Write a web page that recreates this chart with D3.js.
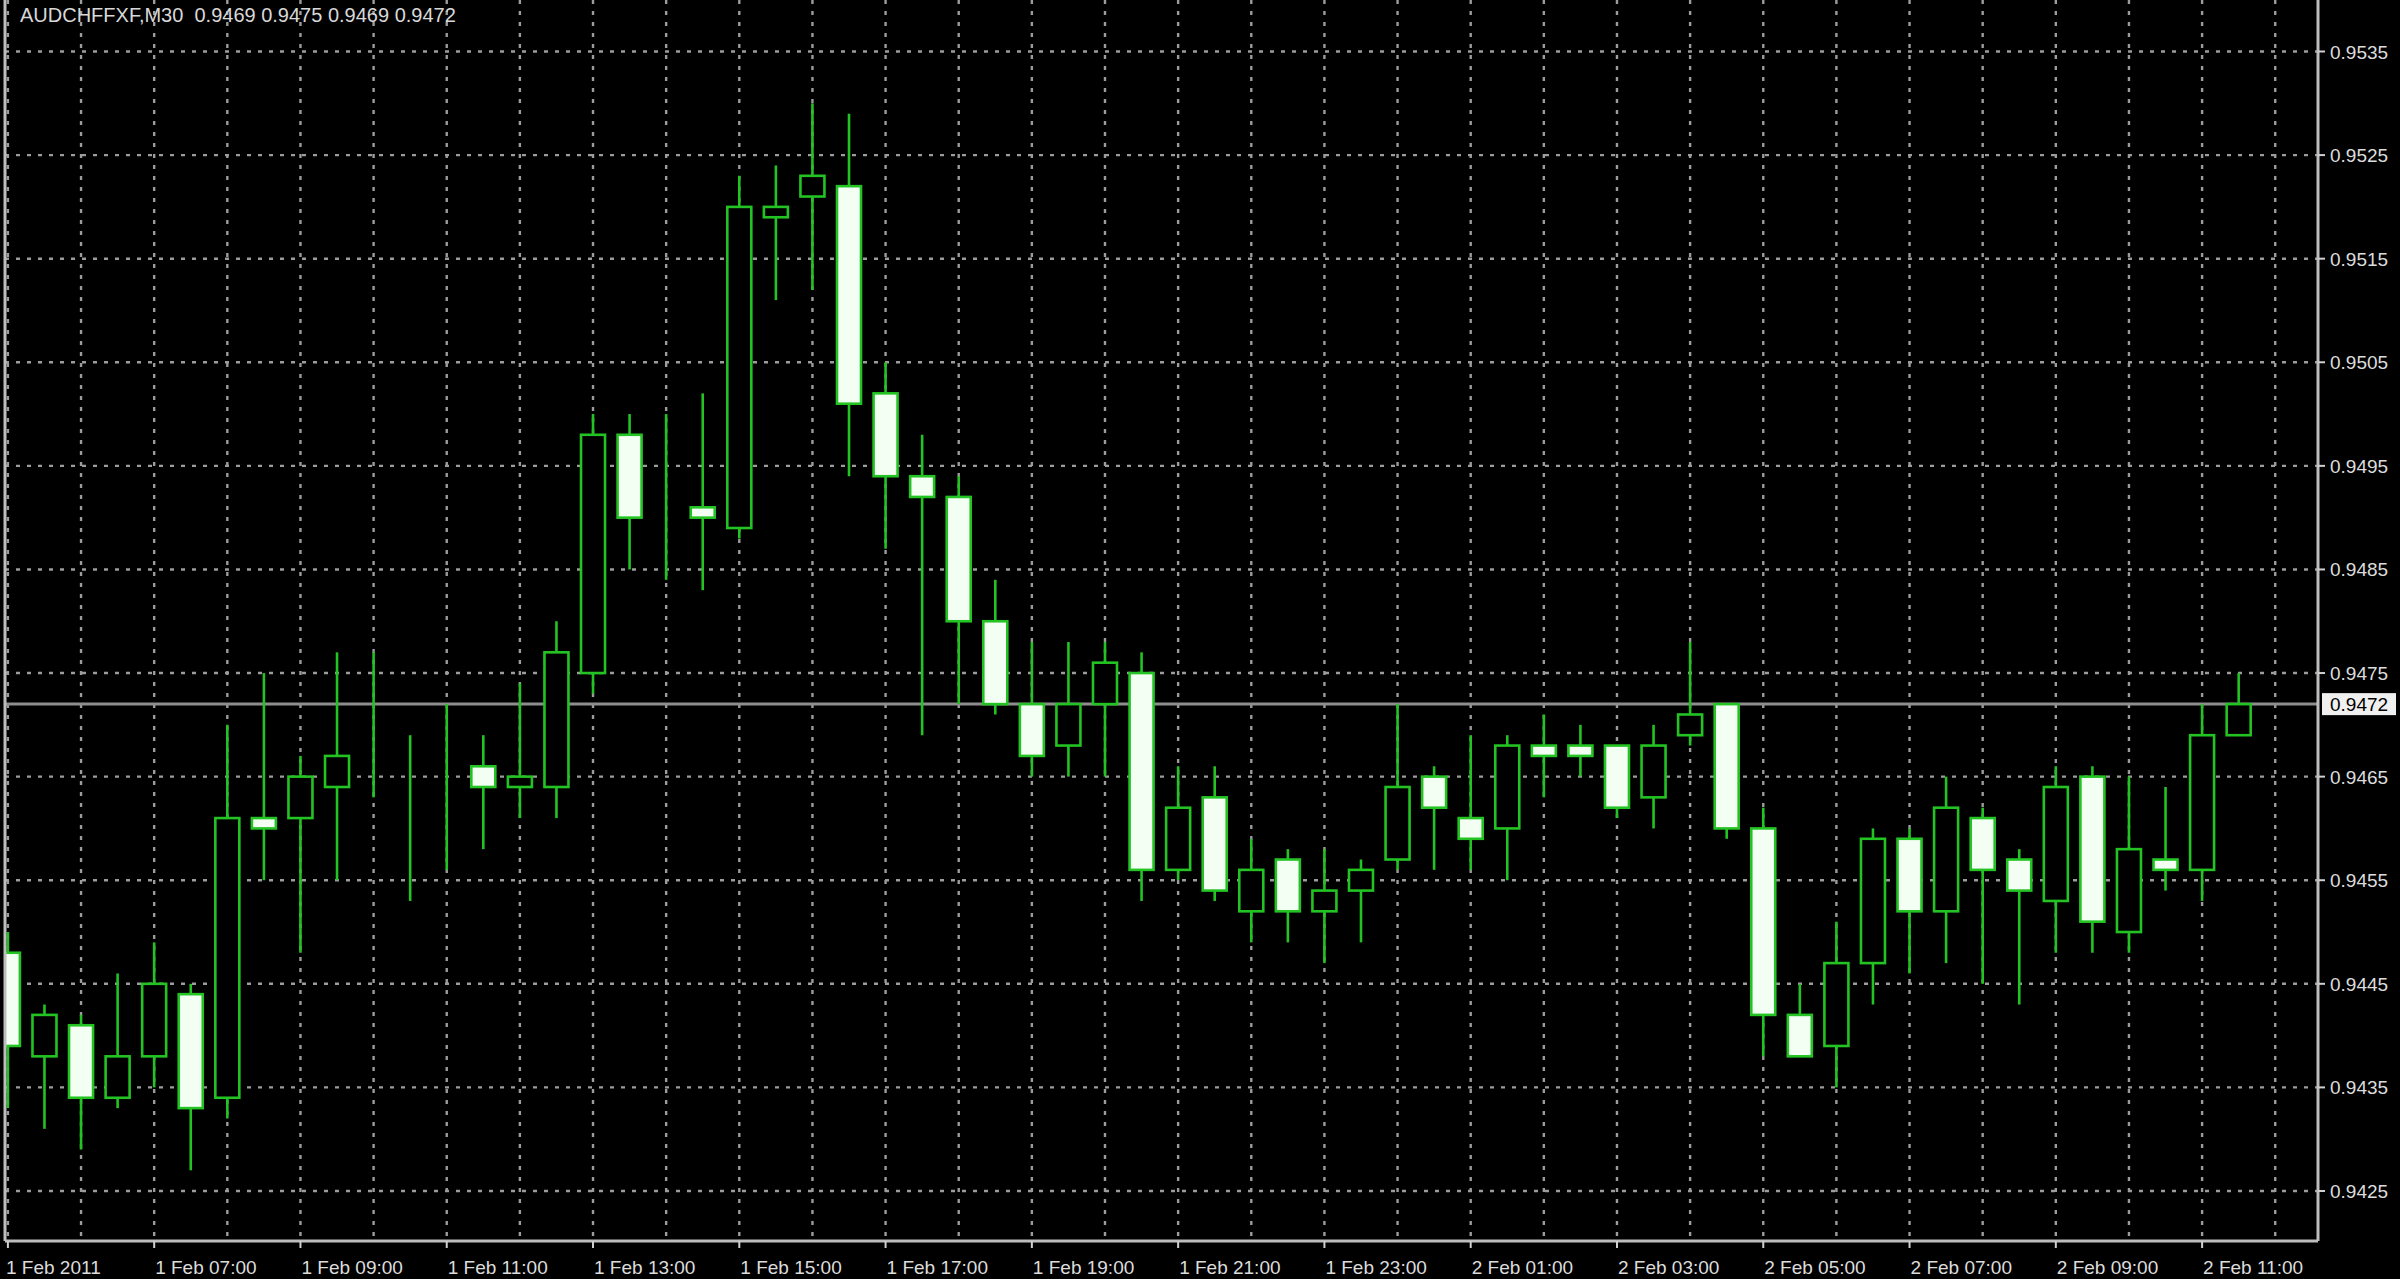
<!DOCTYPE html>
<html>
<head>
<meta charset="utf-8">
<script src="https://cdn.jsdelivr.net/npm/d3@7"></script>
<style>
  html, body { margin: 0; padding: 0; background: #000; }
  svg { display: block; }
  text { font-family: "Liberation Sans", Arial, sans-serif; }
</style>
</head>
<body>
<svg id="chart" width="2400" height="1279"></svg>
<script>
// ---- data (AUDCHFFXF, M30, starting 1 Feb 2011 05:00) ----
const symbolTitle = "AUDCHFFXF,M30  0.9469 0.9475 0.9469 0.9472";
const opens  = [0.9448,0.9438,0.9441,0.9434,0.9438,0.9444,0.9434,0.9461,0.9461,0.9464,
                0.9466,0.9465,0.9466,0.9466,0.9464,0.9464,0.9475,0.9498,0.9491,0.9491,
                0.9489,0.9519,0.9521,0.9522,0.9502,0.9494,0.9492,0.9480,0.9472,0.9468,
                0.9472,0.9475,0.9456,0.9463,0.9452,0.9457,0.9452,0.9454,0.9457,0.9465,
                0.9461,0.9460,0.9468,0.9468,0.9468,0.9463,0.9469,0.9472,0.9460,0.9442,
                0.9439,0.9447,0.9459,0.9452,0.9461,0.9457,0.9453,0.9465,0.9450,0.9457,
                0.9456,0.9469];
const highs  = [0.9450,0.9443,0.9442,0.9446,0.9449,0.9445,0.9470,0.9475,0.9467,0.9477,
                0.9477,0.9469,0.9472,0.9469,0.9474,0.9480,0.9500,0.9500,0.9500,0.9502,
                0.9523,0.9524,0.9530,0.9529,0.9505,0.9498,0.9494,0.9484,0.9478,0.9478,
                0.9478,0.9477,0.9466,0.9466,0.9459,0.9458,0.9458,0.9457,0.9472,0.9466,
                0.9469,0.9469,0.9471,0.9470,0.9468,0.9470,0.9478,0.9472,0.9462,0.9445,
                0.9451,0.9460,0.9460,0.9465,0.9462,0.9458,0.9466,0.9466,0.9465,0.9464,
                0.9472,0.9475];
const lows   = [0.9433,0.9431,0.9429,0.9433,0.9435,0.9427,0.9432,0.9455,0.9448,0.9455,
                0.9463,0.9453,0.9456,0.9458,0.9461,0.9461,0.9473,0.9485,0.9484,0.9483,
                0.9488,0.9511,0.9512,0.9494,0.9487,0.9469,0.9472,0.9471,0.9465,0.9465,
                0.9465,0.9453,0.9455,0.9453,0.9449,0.9449,0.9447,0.9449,0.9456,0.9456,
                0.9456,0.9455,0.9463,0.9465,0.9461,0.9460,0.9468,0.9459,0.9438,0.9438,
                0.9435,0.9443,0.9446,0.9447,0.9445,0.9443,0.9448,0.9448,0.9448,0.9454,
                0.9453,0.9469];
const closes = [0.9439,0.9442,0.9434,0.9438,0.9445,0.9433,0.9461,0.9460,0.9465,0.9467,
                0.9466,0.9465,0.9466,0.9464,0.9465,0.9477,0.9498,0.9490,0.9491,0.9490,
                0.9520,0.9520,0.9523,0.9501,0.9494,0.9492,0.9480,0.9472,0.9467,0.9472,
                0.9476,0.9456,0.9462,0.9454,0.9456,0.9452,0.9454,0.9456,0.9464,0.9462,
                0.9459,0.9468,0.9467,0.9467,0.9462,0.9468,0.9471,0.9460,0.9442,0.9438,
                0.9447,0.9459,0.9452,0.9462,0.9456,0.9454,0.9464,0.9451,0.9458,0.9456,
                0.9469,0.9472];
const timeLabels = ["1 Feb 2011","1 Feb 07:00","1 Feb 09:00","1 Feb 11:00","1 Feb 13:00",
                    "1 Feb 15:00","1 Feb 17:00","1 Feb 19:00","1 Feb 21:00","1 Feb 23:00",
                    "2 Feb 01:00","2 Feb 03:00","2 Feb 05:00","2 Feb 07:00","2 Feb 09:00",
                    "2 Feb 11:00"];
const timeLabelBars = [0,4,8,12,16,20,24,28,32,36,40,44,48,52,56,60];
const priceTicks = [0.9425,0.9435,0.9445,0.9455,0.9465,0.9475,0.9485,0.9495,0.9505,0.9515,0.9525,0.9535];
const lastPrice = 0.9472;

// ---- build ----
const bars = opens.map((o, i) => ({ i, o, h: highs[i], l: lows[i], c: closes[i] }));

const W = 2400, H = 1279;
const left = 5, right = 2318, bottom = 1241;
const svg = d3.select("#chart");
svg.append("rect").attr("width", W).attr("height", H).attr("fill", "#000");

const x = d3.scaleLinear().domain([0, 61]).range([7.9, 7.9 + 61 * 36.57]);
const y = d3.scaleLinear().domain([0.9425, 0.9535]).range([1191, 51.5]);

const gridColor = "#9c9c9c";
const green = "#22c322";

// grid
const vGrid = d3.range(0, 63, 2);
svg.append("g").selectAll("line").data(vGrid).join("line")
  .attr("x1", d => x(d)).attr("x2", d => x(d))
  .attr("y1", 0).attr("y2", bottom)
  .attr("stroke", gridColor).attr("stroke-width", 2.4)
  .attr("stroke-dasharray", "4,7");
svg.append("g").selectAll("line").data(priceTicks).join("line")
  .attr("x1", left).attr("x2", right)
  .attr("y1", d => y(d)).attr("y2", d => y(d))
  .attr("stroke", gridColor).attr("stroke-width", 2.4)
  .attr("stroke-dasharray", "4,7");

// last price line
svg.append("line")
  .attr("x1", left).attr("x2", right)
  .attr("y1", y(lastPrice)).attr("y2", y(lastPrice))
  .attr("stroke", "#8e8e8e").attr("stroke-width", 3);

// candles
svg.append("defs").append("clipPath").attr("id", "plot")
  .append("rect").attr("x", left + 1).attr("y", 0).attr("width", right - left - 1).attr("height", bottom);
const g = svg.append("g").attr("clip-path", "url(#plot)");
const bw = 24;
g.selectAll("line.wick").data(bars).join("line").attr("class", "wick")
  .attr("x1", d => x(d.i)).attr("x2", d => x(d.i))
  .attr("y1", d => y(d.h)).attr("y2", d => y(d.l))
  .attr("stroke", green).attr("stroke-width", 2.6);
g.selectAll("rect.body").data(bars).join("rect").attr("class", "body")
  .attr("x", d => x(d.i) - bw / 2)
  .attr("width", bw)
  .attr("y", d => y(Math.max(d.o, d.c)))
  .attr("height", d => Math.abs(y(d.o) - y(d.c)))
  .attr("fill", d => d.c >= d.o ? "#000" : "#f4fff4")
  .attr("stroke", green).attr("stroke-width", 2.6);

// frame
svg.append("line").attr("x1", left).attr("x2", left).attr("y1", 0).attr("y2", bottom)
  .attr("stroke", "#bdbdbd").attr("stroke-width", 3);
svg.append("line").attr("x1", right).attr("x2", right).attr("y1", 0).attr("y2", bottom)
  .attr("stroke", "#bdbdbd").attr("stroke-width", 3);
svg.append("line").attr("x1", left).attr("x2", right).attr("y1", bottom).attr("y2", bottom)
  .attr("stroke", "#bdbdbd").attr("stroke-width", 3);

// right price axis
const yAxisG = svg.append("g");
yAxisG.selectAll("line").data(priceTicks).join("line")
  .attr("x1", right).attr("x2", right + 7)
  .attr("y1", d => y(d)).attr("y2", d => y(d))
  .attr("stroke", "#cfcfcf").attr("stroke-width", 2);
yAxisG.selectAll("text").data(priceTicks).join("text")
  .attr("x", right + 12).attr("y", d => y(d) + 7)
  .attr("fill", "#dcdcdc").attr("font-size", 19)
  .text(d => d3.format(".4f")(d));

// last price tag
svg.append("rect")
  .attr("x", right + 4).attr("y", y(lastPrice) - 11)
  .attr("width", 74).attr("height", 22).attr("fill", "#f0f0f0");
svg.append("text")
  .attr("x", right + 12).attr("y", y(lastPrice) + 7)
  .attr("fill", "#000").attr("font-size", 19)
  .text(d3.format(".4f")(lastPrice));

// bottom time axis
const xAxisG = svg.append("g");
xAxisG.selectAll("line").data(timeLabelBars).join("line")
  .attr("x1", d => Math.max(left, x(d))).attr("x2", d => Math.max(left, x(d)))
  .attr("y1", bottom).attr("y2", bottom + 7)
  .attr("stroke", "#cfcfcf").attr("stroke-width", 2);
xAxisG.selectAll("text").data(timeLabelBars).join("text")
  .attr("x", (d, k) => k === 0 ? left + 1 : x(d) + 1)
  .attr("y", 1274)
  .attr("fill", "#dcdcdc").attr("font-size", 19)
  .text((d, k) => timeLabels[k]);

// title
svg.append("text").attr("x", 20).attr("y", 22)
  .attr("fill", "#d8d8d8").attr("font-size", 20)
  .attr("xml:space", "preserve").style("white-space", "pre")
  .text(symbolTitle);
</script>
</body>
</html>
